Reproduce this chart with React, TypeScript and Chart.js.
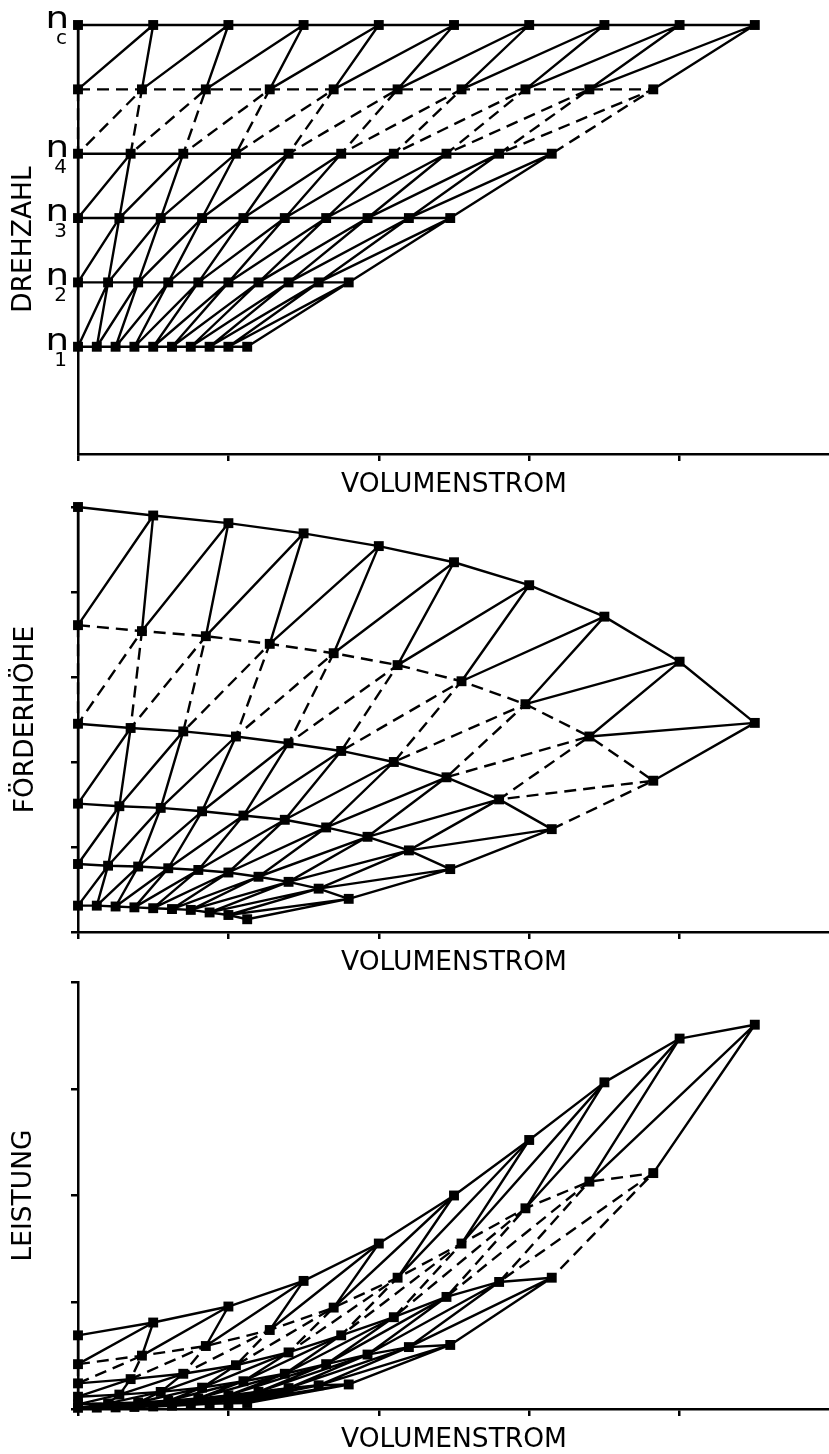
import React, { useEffect, useRef } from "react";
import { Chart, registerables } from "chart.js";

Chart.register(...registerables);

const FONT = "'DejaVu Sans', Verdana, sans-serif";

// ---- Volumenstrom (flow) per speed row ----
const flowN1 = [0, 0.125, 0.25, 0.375, 0.5, 0.625, 0.75, 0.875, 1.0, 1.125];
const flowN2 = [0, 0.2, 0.4, 0.6, 0.8, 1.0, 1.2, 1.4, 1.6, 1.8];
const flowN3 = [0, 0.275, 0.55, 0.825, 1.1, 1.375, 1.65, 1.925, 2.2, 2.475];
const flowN4 = [0, 0.35, 0.7, 1.05, 1.4, 1.75, 2.1, 2.45, 2.8, 3.15];
const flowNx = [0, 0.425, 0.85, 1.275, 1.7, 2.125, 2.55, 2.975, 3.4, 3.825];
const flowNc = [0, 0.5, 1.0, 1.5, 2.0, 2.5, 3.0, 3.5, 4.0, 4.5];

// ---- Drehzahl (speed) of each row ----
const speedValues = [0.25, 0.4, 0.55, 0.7, 0.85, 1.0];
const speedSubscripts = ["1", "2", "3", "4", "", "c"];
const dashedRows = [false, false, false, false, true, false];

// ---- Förderhöhe (head) per row ----
const headN1 = [0.31, 0.31, 0.3, 0.29, 0.28, 0.27, 0.26, 0.23, 0.2, 0.15];
const headN2 = [0.8, 0.78, 0.77, 0.75, 0.73, 0.7, 0.65, 0.59, 0.51, 0.39];
const headN3 = [1.51, 1.48, 1.46, 1.42, 1.37, 1.32, 1.23, 1.12, 0.96, 0.74];
const headN4 = [2.45, 2.4, 2.36, 2.3, 2.22, 2.13, 2.0, 1.82, 1.56, 1.21];
const headNx = [3.61, 3.54, 3.48, 3.39, 3.28, 3.14, 2.95, 2.68, 2.3, 1.78];
const headNc = [5.0, 4.9, 4.81, 4.69, 4.54, 4.35, 4.08, 3.71, 3.18, 2.46];

// ---- Leistung (power) per row ----
const powerN1 = [0.011, 0.013, 0.015, 0.019, 0.024, 0.031, 0.039, 0.048, 0.054, 0.056];
const powerN2 = [0.044, 0.052, 0.061, 0.077, 0.099, 0.128, 0.161, 0.196, 0.222, 0.23];
const powerN3 = [0.115, 0.135, 0.16, 0.2, 0.26, 0.33, 0.42, 0.51, 0.58, 0.6];
const powerN4 = [0.24, 0.28, 0.33, 0.41, 0.53, 0.69, 0.86, 1.05, 1.19, 1.23];
const powerNx = [0.42, 0.5, 0.59, 0.74, 0.95, 1.23, 1.55, 1.88, 2.13, 2.21];
const powerNc = [0.69, 0.81, 0.96, 1.2, 1.55, 2.0, 2.52, 3.06, 3.47, 3.6];

// ---- ticks ----
const xTickValues = [0, 1, 2, 3, 4, 5];
const headTickValues = [0, 1, 2, 3, 4, 5];
const powerTickValues = [0, 1, 2, 3, 4];

const flowRows = [flowN1, flowN2, flowN3, flowN4, flowNx, flowNc];
const speedRows = speedValues.map((s) => flowN1.map(() => s));
const headRows = [headN1, headN2, headN3, headN4, headNx, headNc];
const powerRows = [powerN1, powerN2, powerN3, powerN4, powerNx, powerNc];

const LW = 2.4;
const DASH = [12, 7];
const FS = 26.5;

type Pt = { x: number; y: number };

function buildDatasets(yRows: number[][]) {
  const pts: Pt[][] = flowRows.map((f, r) => f.map((x, i) => ({ x, y: yRows[r][i] })));
  const ds: any[] = [];
  // markers (on top)
  pts.forEach((row) => {
    ds.push({
      data: row,
      showLine: false,
      pointStyle: "rect",
      pointRadius: 7,
      pointHoverRadius: 7,
      pointBackgroundColor: "#000",
      pointBorderWidth: 0,
      order: 0,
      clip: false,
    });
  });
  // row curves
  pts.forEach((row, r) => {
    ds.push({
      data: row,
      showLine: true,
      borderColor: "#000",
      borderWidth: LW,
      borderDash: dashedRows[r] ? DASH : [],
      borderJoinStyle: "round",
      pointRadius: 0,
      pointHoverRadius: 0,
      tension: 0,
      order: 1,
      clip: false,
    });
  });
  // connectors between neighbouring rows (same index and diagonal)
  for (let r = 0; r < pts.length - 1; r++) {
    const lower = pts[r];
    const upper = pts[r + 1];
    const zig: Pt[] = [];
    for (let i = 0; i < upper.length; i++) {
      zig.push(upper[i]);
      zig.push(lower[i]);
    }
    ds.push({
      data: zig,
      showLine: true,
      borderColor: "#000",
      borderWidth: LW,
      borderDash: dashedRows[r + 1] ? DASH : [],
      borderJoinStyle: "round",
      pointRadius: 0,
      pointHoverRadius: 0,
      tension: 0,
      order: 2,
      clip: false,
    });
  }
  return ds;
}

const speedLabelPlugin = {
  id: "speedLabels",
  afterDraw(chart: any) {
    const { ctx } = chart;
    const ys = chart.scales.y;
    ctx.save();
    ctx.fillStyle = "#000";
    ctx.textBaseline = "alphabetic";
    speedValues.forEach((v, r) => {
      const sub = speedSubscripts[r];
      if (!sub) return;
      const py = ys.getPixelForValue(v);
      ctx.save();
      ctx.font = `31px ${FONT}`;
      ctx.textAlign = "right";
      ctx.translate(69, py + 3);
      ctx.scale(1.2, 1);
      ctx.fillText("n", 0, 0);
      ctx.restore();
      ctx.font = `20px ${FONT}`;
      ctx.textAlign = "right";
      ctx.fillText(sub, 67, py + 19);
    });
    ctx.restore();
  },
};

type PanelSpec = {
  yRows: number[][];
  yMax: number;
  yTicks: number[] | null;
  yTitle: string;
  yTitlePad: number;
  padTop: number;
  xAxisHeight: number;
  xTitlePad: number;
  plugins: any[];
};

function makeChart(canvas: HTMLCanvasElement, p: PanelSpec) {
  const config: any = {
    type: "scatter",
    data: { datasets: buildDatasets(p.yRows) },
    options: {
      animation: false,
      responsive: false,
      events: [],
      layout: { padding: { left: 0, right: 0, top: p.padTop, bottom: 0 } },
      plugins: { legend: { display: false }, tooltip: { enabled: false } },
      scales: {
        x: {
          type: "linear",
          position: "bottom",
          min: 0,
          max: 5,
          afterFit: (s: any) => {
            s.height = p.xAxisHeight;
          },
          afterBuildTicks: (s: any) => {
            s.ticks = xTickValues.map((v) => ({ value: v }));
          },
          ticks: { display: false },
          grid: {
            display: true,
            drawOnChartArea: false,
            drawTicks: true,
            tickLength: 7,
            color: "#000",
            lineWidth: 2.5,
          },
          border: { display: true, color: "#000", width: 2.5 },
          title: {
            display: true,
            text: "VOLUMENSTROM",
            color: "#000",
            font: { family: FONT, size: FS },
            padding: { top: 0, bottom: p.xTitlePad },
          },
        },
        y: {
          type: "linear",
          position: "left",
          min: 0,
          max: p.yMax,
          afterFit: (s: any) => {
            s.width = 78;
          },
          afterBuildTicks: (s: any) => {
            if (p.yTicks) s.ticks = p.yTicks.map((v) => ({ value: v }));
          },
          ticks: { display: false },
          grid: {
            display: !!p.yTicks,
            drawOnChartArea: false,
            drawTicks: true,
            tickLength: 7,
            color: "#000",
            lineWidth: 2.5,
          },
          border: { display: true, color: "#000", width: 2.5 },
          title: {
            display: true,
            text: p.yTitle,
            color: "#000",
            font: { family: FONT, size: FS },
            padding: { top: p.yTitlePad, bottom: 0 },
          },
        },
      },
    },
    plugins: p.plugins,
  };
  return new Chart(canvas, config);
}

export default function App() {
  const refA = useRef<HTMLCanvasElement>(null);
  const refB = useRef<HTMLCanvasElement>(null);
  const refC = useRef<HTMLCanvasElement>(null);

  useEffect(() => {
    document.body.style.margin = "0";
    const charts: Chart[] = [];
    if (refA.current)
      charts.push(
        makeChart(refA.current, {
          yRows: speedRows,
          yMax: 1,
          yTicks: null,
          yTitle: "DREHZAHL",
          yTitlePad: 8.5,
          padTop: 25,
          xAxisHeight: 49,
          xTitlePad: 2.1,
          plugins: [speedLabelPlugin],
        })
      );
    if (refB.current)
      charts.push(
        makeChart(refB.current, {
          yRows: headRows,
          yMax: 5,
          yTicks: headTickValues,
          yTitle: "FÖRDERHÖHE",
          yTitlePad: 10.5,
          padTop: 17,
          xAxisHeight: 49,
          xTitlePad: 2.1,
          plugins: [],
        })
      );
    if (refC.current)
      charts.push(
        makeChart(refC.current, {
          yRows: powerRows,
          yMax: 4,
          yTicks: powerTickValues,
          yTitle: "LEISTUNG",
          yTitlePad: 8.6,
          padTop: 17,
          xAxisHeight: 49,
          xTitlePad: 1.6,
          plugins: [],
        })
      );
    return () => charts.forEach((c) => c.destroy());
  }, []);

  return (
    <div
      style={{
        position: "fixed",
        left: 0,
        top: 0,
        width: 829,
        height: 1454,
        overflow: "hidden",
        background: "#fff",
      }}
    >
      <canvas ref={refA} width={837} height={503} style={{ position: "absolute", left: 0, top: 0 }} />
      <canvas ref={refB} width={837} height={491} style={{ position: "absolute", left: 0, top: 490 }} />
      <canvas ref={refC} width={837} height={493} style={{ position: "absolute", left: 0, top: 965 }} />
    </div>
  );
}
